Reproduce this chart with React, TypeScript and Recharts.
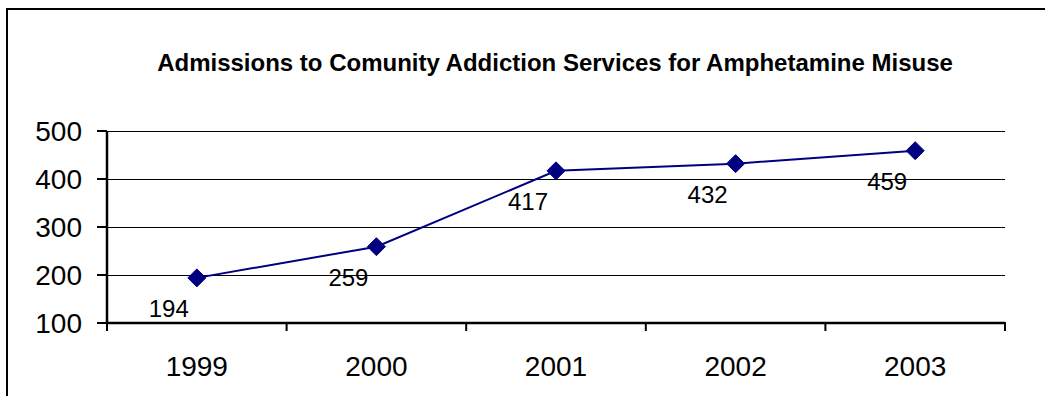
import React from "react";
import { LineChart, Line, XAxis, YAxis, CartesianGrid, LabelList } from "recharts";

const title = "Admissions to Comunity Addiction Services for Amphetamine Misuse";
const years = ["1999", "2000", "2001", "2002", "2003"];
const admissions = [194, 259, 417, 432, 459];
const yTicks = [100, 200, 300, 400, 500];

const data = years.map((y, i) => ({ year: y, value: admissions[i] }));

const FONT = "'Liberation Sans', Arial, sans-serif";
const NAVY = "#000080";

const Diamond = (props: any) => {
  const { cx, cy } = props;
  if (cx == null || cy == null) return null;
  const r = 9;
  return (
    <polygon
      points={`${cx},${cy - r} ${cx + r},${cy} ${cx},${cy + r} ${cx - r},${cy}`}
      fill={NAVY}
      stroke={NAVY}
      strokeWidth={1}
    />
  );
};

const GridLine = (props: any) => {
  const { x1, y1, x2, y2 } = props;
  return (
    <line
      x1={x1}
      y1={y1 + 0.5}
      x2={x2}
      y2={y2 + 0.5}
      stroke="#000"
      strokeWidth={1}
      shapeRendering="crispEdges"
    />
  );
};

const XTick = (props: any) => {
  const { x, y, payload, index, visibleTicksCount } = props;
  const off = payload?.offset ?? 0;
  const isLast = index === (visibleTicksCount ?? years.length) - 1;
  return (
    <g>
      <line x1={x - off} y1={y - 9} x2={x - off} y2={y} stroke="#000" strokeWidth={2} />
      {isLast && (
        <line x1={x + off} y1={y - 9} x2={x + off} y2={y} stroke="#000" strokeWidth={2} />
      )}
      <text x={x} y={y + 45} textAnchor="middle" fontSize={28} fontFamily={FONT} fill="#000">
        {payload.value}
      </text>
    </g>
  );
};

const ValueLabel = (props: any) => {
  const { x, y, value } = props;
  return (
    <text x={x - 28} y={y + 39} textAnchor="middle" fontSize={24} fontFamily={FONT} fill="#000">
      {value}
    </text>
  );
};

export default function App() {
  return (
    <div
      style={{
        position: "absolute",
        left: 0,
        top: 0,
        width: 1045,
        height: 396,
        overflow: "hidden",
        background: "#fff",
      }}
    >
      <div
        style={{
          position: "absolute",
          left: 6,
          top: 8,
          width: 1200,
          height: 600,
          border: "2px solid #000",
        }}
      />
      <svg
        width={1045}
        height={396}
        style={{ position: "absolute", left: 0, top: 0 }}
      >
        <text
          x={555}
          y={71}
          textAnchor="middle"
          fontSize={24}
          fontWeight="bold"
          fontFamily={FONT}
          fill="#000"
        >
          {title}
        </text>
      </svg>
      <div style={{ position: "absolute", left: 0, top: 0 }}>
        <LineChart
          width={1045}
          height={396}
          data={data}
          margin={{ top: 131, right: 40, bottom: 43, left: 10 }}
        >
          <CartesianGrid vertical={false} horizontal={<GridLine />} stroke="#000" />
          <XAxis
            dataKey="year"
            scale="band"
            height={30}
            axisLine={{ stroke: "#000", strokeWidth: 2.5 }}
            tickLine={false}
            tickSize={8}
            tickMargin={0}
            interval={0}
            tick={<XTick />}
          />
          <YAxis
            width={97}
            domain={[100, 500]}
            ticks={yTicks}
            interval={0}
            axisLine={{ stroke: "#000", strokeWidth: 2.5 }}
            tickLine={{ stroke: "#000", strokeWidth: 2 }}
            tickSize={10}
            tickMargin={15}
            tick={{ fontSize: 28, fontFamily: FONT, fill: "#000" }}
          />
          <Line
            type="linear"
            dataKey="value"
            stroke={NAVY}
            strokeWidth={2}
            dot={<Diamond />}
            activeDot={false}
            isAnimationActive={false}
          >
            <LabelList dataKey="value" content={<ValueLabel />} />
          </Line>
        </LineChart>
      </div>
    </div>
  );
}
